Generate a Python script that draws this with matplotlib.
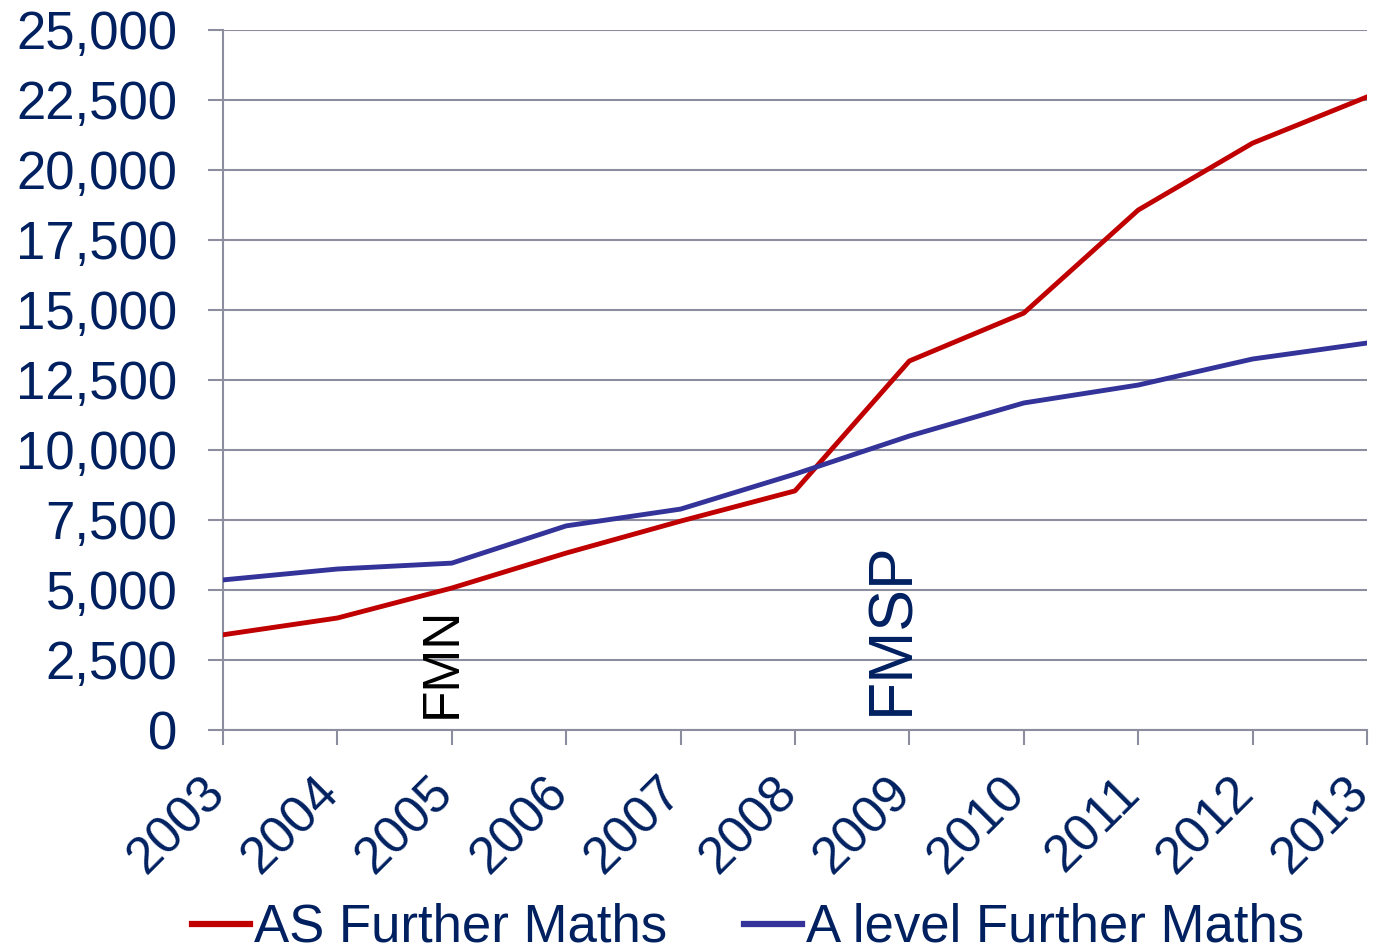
import matplotlib
matplotlib.use("Agg")
import matplotlib.pyplot as plt
from matplotlib.ticker import FuncFormatter
from matplotlib.transforms import ScaledTranslation

years = [2003, 2004, 2005, 2006, 2007, 2008, 2009, 2010, 2011, 2012, 2013]
as_further = [3400, 4000, 5070, 6320, 7460, 8540, 13180, 14890, 18570, 20960, 22610]
a_level_further = [5360, 5750, 5960, 7290, 7890, 9140, 10500, 11680, 12320, 13250, 13820]
series_names = ["AS Further Maths", "A level Further Maths"]
y_ticks = [0, 2500, 5000, 7500, 10000, 12500, 15000, 17500, 20000, 22500, 25000]

plt.rcParams['font.family'] = ['Liberation Sans', 'DejaVu Sans']
navy = '#002060'
grid_c = '#8C8EA0'

fig = plt.figure(figsize=(13.78, 9.51), dpi=100)
ax = fig.add_axes([223/1378, 1-730/951, (1367-223)/1378, 700/951])

ax.plot(years, as_further, color='#C00000', lw=3.5, label=series_names[0], zorder=3)
ax.plot(years, a_level_further, color='#333399', lw=3.5, label=series_names[1], zorder=3)

ax.set_xlim(2003, 2013)
ax.set_ylim(0, 25000)
ax.set_yticks(y_ticks)
ax.yaxis.set_major_formatter(FuncFormatter(lambda v, p: f"{int(v):,}"))
ax.set_xticks(years)
ax.grid(axis='y', color=grid_c, lw=1.5, zorder=1)
for s in ['top', 'right']:
    ax.spines[s].set_visible(False)
ax.spines['left'].set_color(grid_c)
ax.spines['left'].set_linewidth(1.5)
ax.spines['bottom'].set_color(grid_c)
ax.spines['bottom'].set_linewidth(1.5)
ax.tick_params(axis='y', colors=grid_c, length=11, width=1.5, labelcolor=navy, labelsize=38, pad=22)
ax.tick_params(axis='x', colors=grid_c, length=11, width=1.5, labelcolor=navy, labelsize=37, pad=29)
for lab in ax.get_xticklabels():
    lab.set_rotation(45)
    lab.set_ha('right')
    lab.set_va('center')
    lab.set_rotation_mode('anchor')
    lab.set_transform(lab.get_transform() + ScaledTranslation(-6/100, 0, fig.dpi_scale_trans))

ax.text(2004.92, 430, "FMN", rotation=90, ha='center', va='bottom', fontsize=37, color='black')
ax.text(2008.85, 520, "FMSP", rotation=90, ha='center', va='bottom', fontsize=45, color=navy)

leg = fig.legend(loc='center', bbox_to_anchor=(748/1378, 1-928/951), ncol=2, frameon=False,
                 fontsize=38, handlelength=1.1, handletextpad=0.08, columnspacing=1.45,
                 labelcolor=navy, borderpad=0, borderaxespad=0)
for h in leg.get_lines():
    h.set_linewidth(4.5)

fig.savefig("out.png", dpi=100)
